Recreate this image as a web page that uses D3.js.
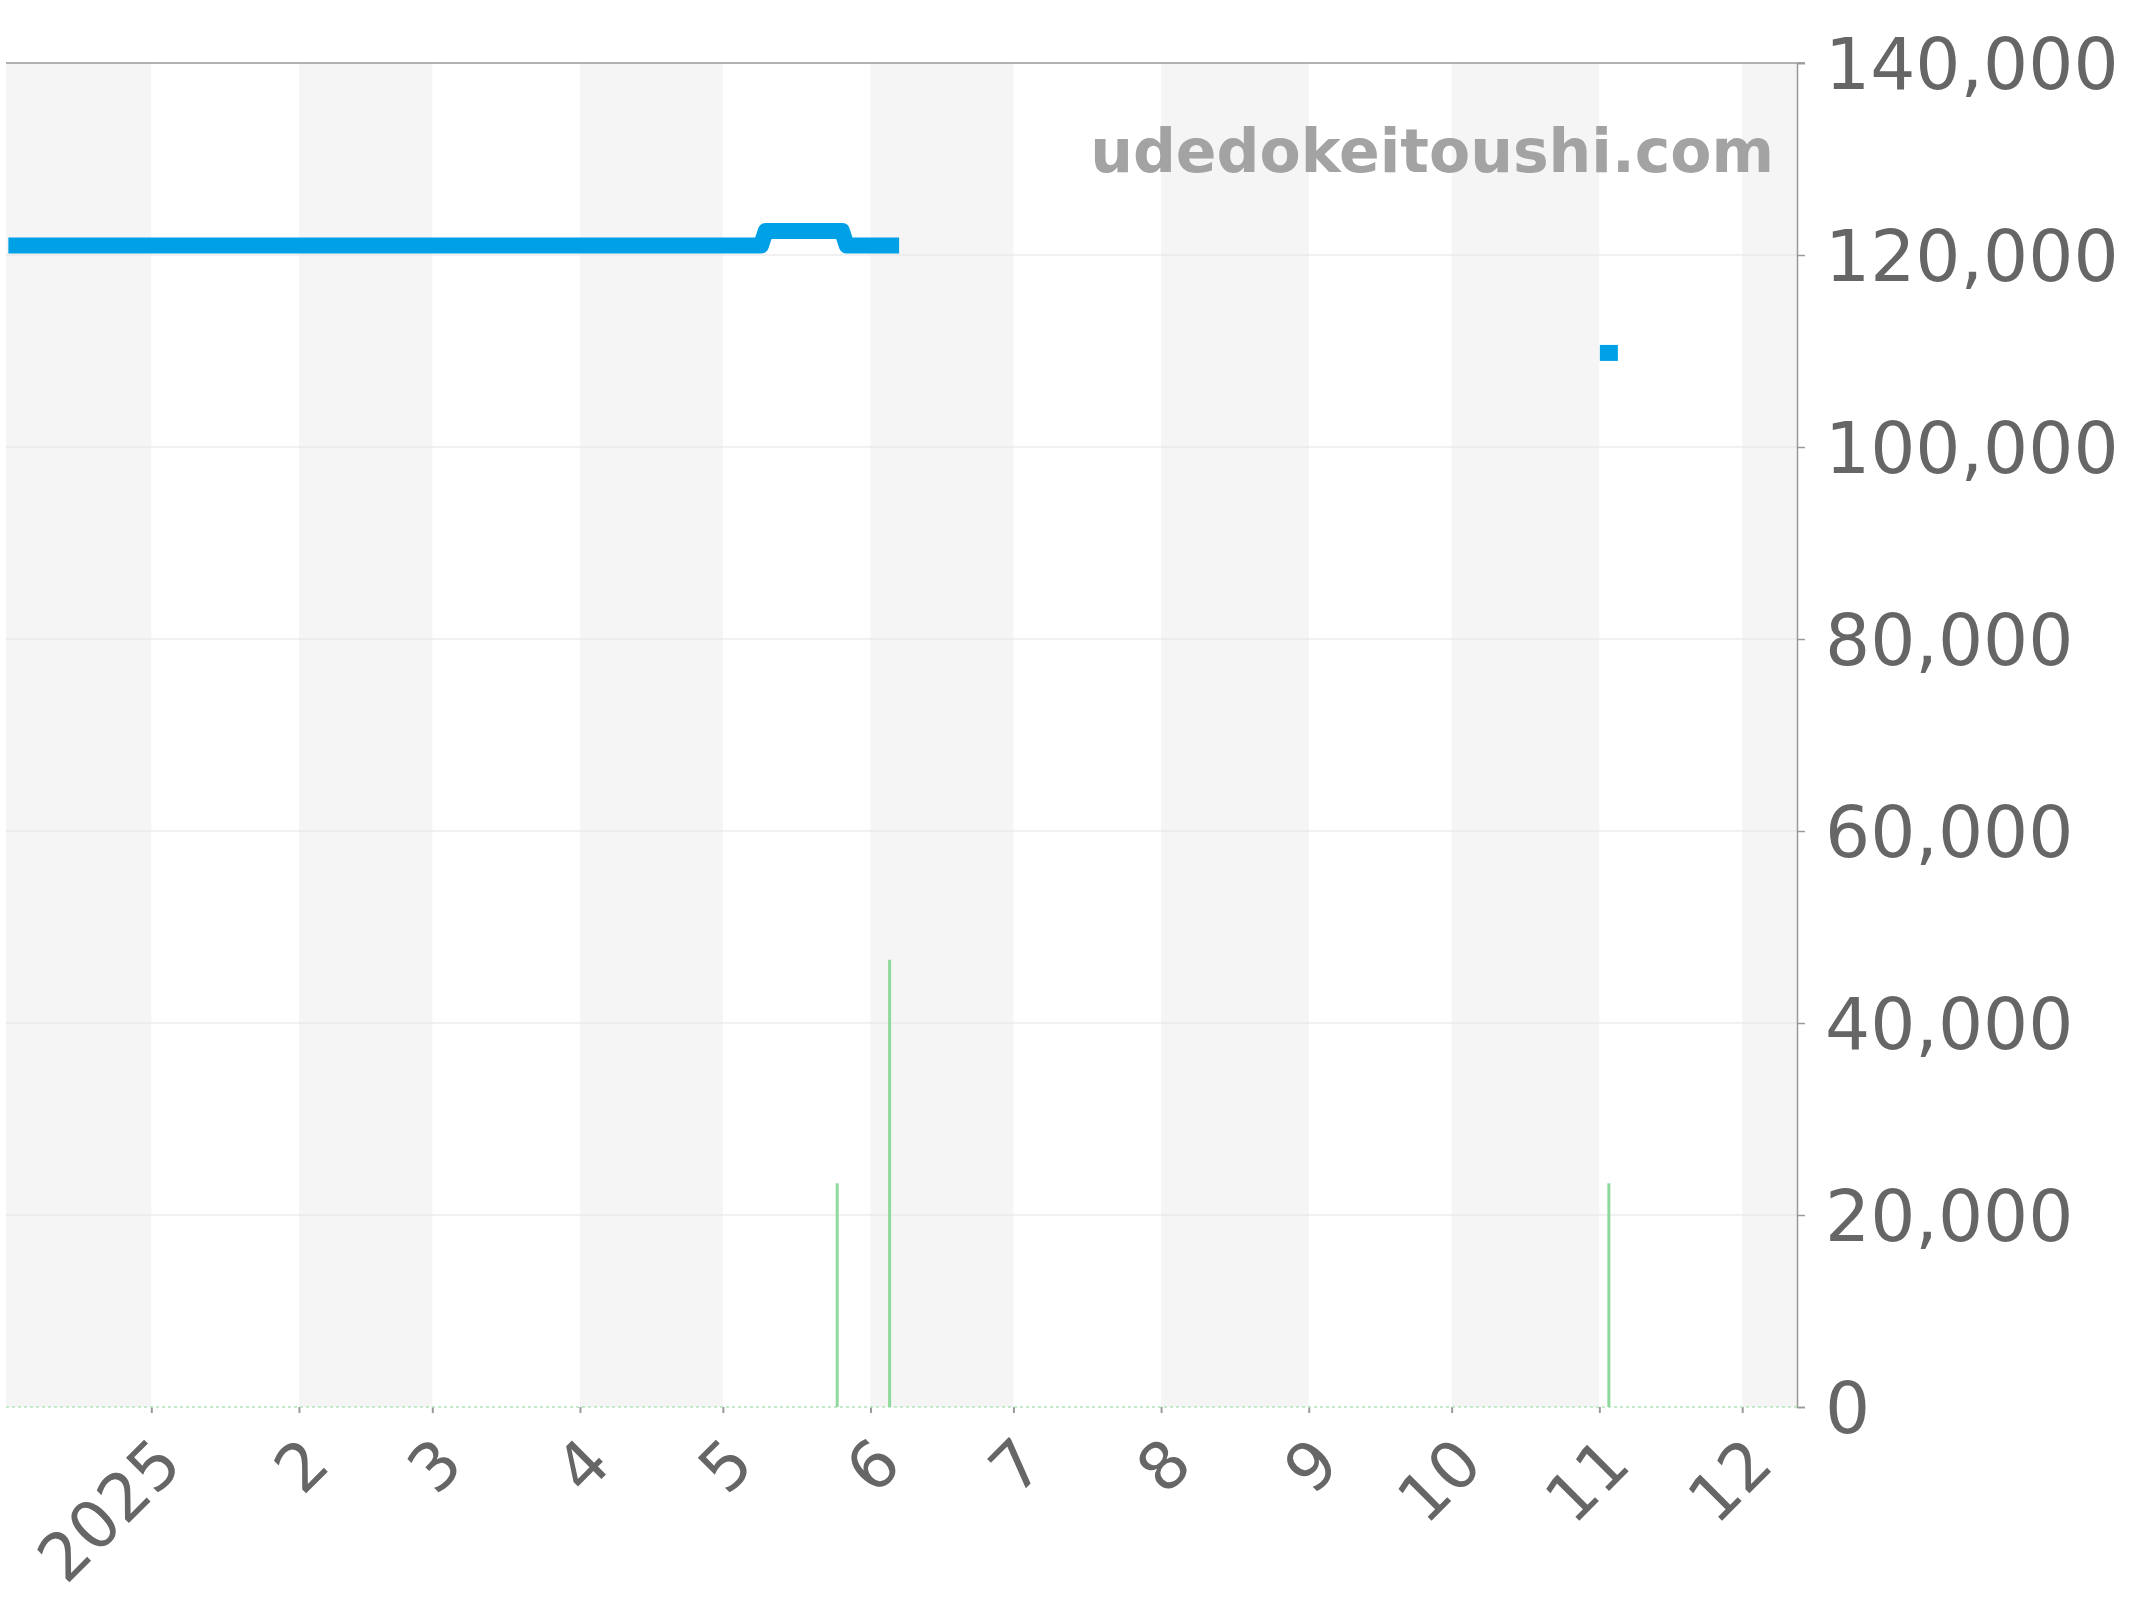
<!DOCTYPE html>
<html>
<head>
<meta charset="utf-8">
<script src="https://cdn.jsdelivr.net/npm/d3@7"></script>
<style>
  body { margin: 0; background: #fff; }
  text { font-family: "DejaVu Sans", sans-serif; }
</style>
</head>
<body>
<svg width="2144" height="1600"></svg>
<script>
// price line (null = gap in the series)
const priceDates = ["2024-12-02", "2025-05-09", "2025-05-10", "2025-05-26", "2025-05-27", "2025-06-07", "2025-06-08", "2025-11-03"];
const priceValues = [121000, 121000, 122500, 122500, 121000, 121000, null, 109800];

// green volume bars
const volumeDates = ["2025-05-25", "2025-06-05", "2025-11-03"];
const volumeValues = [23300, 46600, 23300];

const yTicks = [0, 20000, 40000, 60000, 80000, 100000, 120000, 140000];
const watermark = "udedokeitoushi.com";

const svg = d3.select("svg");
const parse = d3.timeParse("%Y-%m-%d");

const plotLeft = 6, plotRight = 1797, plotTop = 63, plotBottom = 1407;

const x = d3.scaleTime()
  .domain([new Date(2024, 11, 1, 12), new Date(2025, 11, 12, 12)])
  .range([plotLeft, plotRight]);

const y = d3.scaleLinear()
  .domain([0, 140000])
  .range([plotBottom, plotTop]);

const prices = priceDates.map((d, i) => ({ date: parse(d), value: priceValues[i] }));
const volumes = volumeDates.map((d, i) => ({ date: parse(d), value: volumeValues[i] }));

svg.append("clipPath").attr("id", "plot")
  .append("rect")
  .attr("x", plotLeft).attr("y", plotTop)
  .attr("width", plotRight - plotLeft).attr("height", plotBottom - plotTop);

// alternating month bands
const months = d3.timeMonth.range(new Date(2024, 11, 1), new Date(2026, 0, 1));
svg.append("g")
  .attr("clip-path", "url(#plot)")
  .selectAll("rect")
  .data(months.filter(m => m.getMonth() % 2 === 1))
  .join("rect")
  .attr("x", d => x(d))
  .attr("y", plotTop)
  .attr("width", d => x(d3.timeMonth.offset(d, 1)) - x(d))
  .attr("height", plotBottom - plotTop)
  .attr("fill", "#f5f5f5");

// gridlines
svg.append("g")
  .selectAll("line")
  .data(yTicks.filter(d => d > 0 && d < 140000))
  .join("line")
  .attr("x1", plotLeft).attr("x2", plotRight)
  .attr("y1", d => y(d)).attr("y2", d => y(d))
  .attr("stroke", "#e3e3e3")
  .attr("stroke-width", 1.2);

// top border
svg.append("line")
  .attr("x1", plotLeft).attr("x2", plotRight + 8)
  .attr("y1", plotTop).attr("y2", plotTop)
  .attr("stroke", "#999").attr("stroke-width", 1.5);

// right axis
const yAxis = svg.append("g")
  .attr("transform", `translate(${plotRight},0)`)
  .call(d3.axisRight(y).tickValues(yTicks).tickFormat(d3.format(",")).tickSize(8).tickPadding(20));
yAxis.select(".domain").attr("stroke", "#999").attr("stroke-width", 1.5);
yAxis.selectAll(".tick line").attr("stroke", "#999").attr("stroke-width", 1.5);
yAxis.selectAll(".tick text")
  .attr("fill", "#666")
  .style("font-size", "71px")
  .attr("dy", "0.36em");

// bottom axis
const xTicks = d3.timeMonth.range(new Date(2025, 0, 1), new Date(2025, 11, 2));
const xAxis = svg.append("g")
  .attr("transform", `translate(0,${plotBottom})`)
  .call(d3.axisBottom(x).tickValues(xTicks)
    .tickFormat(d => d.getMonth() === 0 ? d3.timeFormat("%Y")(d) : String(d.getMonth() + 1))
    .tickSize(6));
xAxis.select(".domain").remove();
xAxis.selectAll(".tick line").attr("stroke", "#999").attr("stroke-width", 2);
xAxis.selectAll(".tick text")
  .attr("fill", "#666")
  .style("font-size", "66px")
  .attr("text-anchor", "end")
  .attr("y", 0).attr("dy", 0)
  .attr("transform", "translate(33,60) rotate(-45)");

// zero line of the volume series
svg.append("line")
  .attr("x1", plotLeft).attr("x2", plotRight)
  .attr("y1", plotBottom).attr("y2", plotBottom)
  .attr("stroke", "#b2e2ba")
  .attr("stroke-width", 1.5)
  .style("stroke-dasharray", "3,3");

// volume bars
svg.append("g")
  .selectAll("line")
  .data(volumes)
  .join("line")
  .attr("x1", d => x(d.date)).attr("x2", d => x(d.date))
  .attr("y1", y(0)).attr("y2", d => y(d.value))
  .attr("stroke", "#90d99c")
  .attr("stroke-width", 3);

// price line
const line = d3.line()
  .defined(d => d.value != null)
  .x(d => x(d.date))
  .y(d => y(d.value));

svg.append("path")
  .datum(prices)
  .attr("fill", "none")
  .attr("stroke", "#00a0e6")
  .attr("stroke-width", 16)
  .attr("stroke-linejoin", "round")
  .attr("stroke-linecap", "butt")
  .attr("d", line);

// isolated price points
const lonely = prices.filter((d, i) => d.value != null &&
  (i === 0 || prices[i - 1].value == null) &&
  (i === prices.length - 1 || prices[i + 1].value == null));
svg.append("g")
  .selectAll("rect")
  .data(lonely)
  .join("rect")
  .attr("x", d => x(d.date) - 9)
  .attr("y", d => y(d.value) - 8)
  .attr("width", 18)
  .attr("height", 16)
  .attr("fill", "#00a0e6");

// watermark
svg.append("text")
  .attr("x", 1774)
  .attr("y", 172)
  .attr("text-anchor", "end")
  .style("font-size", "60px")
  .style("font-weight", "bold")
  .style("fill", "#a3a3a3")
  .text(watermark);
</script>
</body>
</html>
